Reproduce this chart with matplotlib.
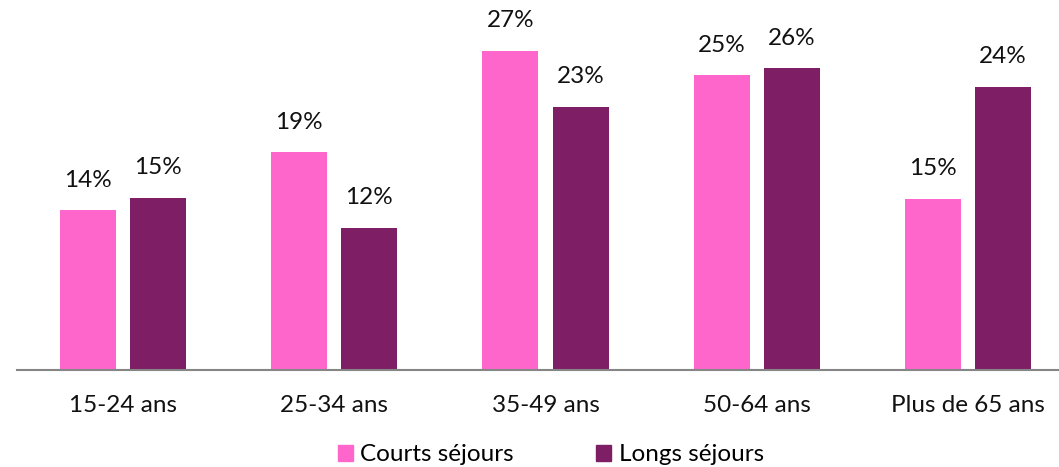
import matplotlib
matplotlib.use("Agg")
import matplotlib.pyplot as plt
from matplotlib.patches import Patch
import numpy as np

# Données
categories = ["15-24 ans", "25-34 ans", "35-49 ans", "50-64 ans", "Plus de 65 ans"]
courts = [13.7, 18.7, 27.4, 25.3, 14.7]
longs = [14.8, 12.2, 22.6, 25.9, 24.3]
courts_labels = ["14%", "19%", "27%", "25%", "15%"]
longs_labels = ["15%", "12%", "23%", "26%", "24%"]

rose = "#FF66CC"
violet = "#7E1E64"

plt.rcParams['font.family'] = ['Lato', 'DejaVu Sans']

fig = plt.figure(figsize=(10.59, 4.67), dpi=100)
ax = fig.add_axes([17 / 1059, 97 / 467, 1042 / 1059, 370 / 467])

x = np.arange(len(categories))
w = 0.265
off = 0.166

b1 = ax.bar(x - off, courts, w, color=rose)
b2 = ax.bar(x + off, longs, w, color=violet)

for bars, labs in [(b1, courts_labels), (b2, longs_labels)]:
    for rect, lab in zip(bars, labs):
        ax.annotate(lab, (rect.get_x() + rect.get_width() / 2, rect.get_height()),
                    xytext=(0, 14), textcoords="offset points",
                    ha="center", va="bottom", fontsize=17.5, color="#111111")

ax.set_xlim(-0.502, 4.431)
ax.set_ylim(0, 31.76)
ax.set_xticks(x)
ax.set_xticklabels(categories, fontsize=17.5, color="#111111")
ax.tick_params(axis="x", length=0, pad=18)
ax.set_yticks([])

for s in ["top", "right", "left"]:
    ax.spines[s].set_visible(False)
ax.spines["bottom"].set_color("#868686")
ax.spines["bottom"].set_linewidth(1.5)

handles = [Patch(color=rose, label="Courts séjours"),
           Patch(color=violet, label="Longs séjours")]
fig.legend(handles=handles, loc="center", bbox_to_anchor=(0.52, 0.026), ncol=2,
           frameon=False, fontsize=17.5, handlelength=0.62, handleheight=0.62,
           handletextpad=0.3, columnspacing=3.4, borderpad=0, borderaxespad=0)

fig.savefig("out.png", dpi=100)
